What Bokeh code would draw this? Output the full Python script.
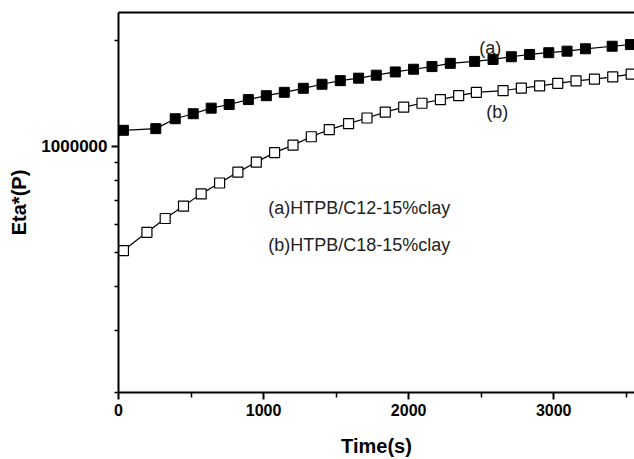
from bokeh.plotting import figure
from bokeh.models import (FixedTicker, PrintfTickFormatter, LinearAxis, Label,
                          Range1d, ColumnDataSource)
from bokeh.embed import file_html
from bokeh.resources import INLINE

# ---- data ----
time_a = [34, 257, 391, 515, 639, 763, 895, 1019, 1143, 1274, 1403, 1529, 1655, 1777,
          1908, 2034, 2161, 2287, 2455, 2582, 2708, 2834, 2966, 3092, 3219, 3403, 3529]
eta_a = [1.111e6, 1.123e6, 1.198e6, 1.238e6, 1.284e6, 1.315e6, 1.358e6, 1.393e6, 1.424e6,
         1.462e6, 1.501e6, 1.537e6, 1.562e6, 1.593e6, 1.627e6, 1.656e6, 1.685e6, 1.721e6,
         1.743e6, 1.766e6, 1.797e6, 1.824e6, 1.845e6, 1.864e6, 1.893e6, 1.925e6, 1.946e6]

time_b = [34, 196, 322, 448, 570, 697, 823, 950, 1076, 1203, 1329, 1453, 1586, 1713,
          1839, 1966, 2092, 2219, 2345, 2467, 2651, 2777, 2903, 3028, 3154, 3281, 3407, 3534]
eta_b = [5.06e5, 5.70e5, 6.24e5, 6.77e5, 7.33e5, 7.87e5, 8.45e5, 9.02e5, 9.60e5, 1.008e6,
         1.065e6, 1.116e6, 1.160e6, 1.204e6, 1.251e6, 1.292e6, 1.326e6, 1.358e6, 1.393e6,
         1.424e6, 1.439e6, 1.464e6, 1.486e6, 1.510e6, 1.535e6, 1.552e6, 1.575e6, 1.603e6]

x_major_ticks = [0, 1000, 2000, 3000]
x_minor_ticks = [500, 1500, 2500, 3500]
y_major_ticks = [1e6]
y_minor_ticks = [2e5, 3e5, 4e5, 5e5, 6e5, 7e5, 8e5, 9e5, 2e6]

x_title = "Time(s)"
y_title = "Eta*(P)"
legend_a = "(a)HTPB/C12-15%clay"
legend_b = "(b)HTPB/C18-15%clay"

FONT = "Liberation Sans"

p = figure(width=634, height=459, output_backend="svg", toolbar_location=None,
           y_axis_type="log",
           x_range=Range1d(0, 3557), y_range=Range1d(2e5, 2.4e6),
           min_border_left=118, min_border_right=0, min_border_top=12, min_border_bottom=62)
p.outline_line_color = None
p.grid.visible = False
p.background_fill_color = "white"
p.border_fill_color = "white"

# x axis
xa = p.xaxis[0]
xa.ticker = FixedTicker(ticks=x_major_ticks, minor_ticks=x_minor_ticks)
xa.axis_line_width = 2
xa.axis_line_color = "black"
xa.major_tick_line_width = 2
xa.minor_tick_line_width = 1.5
xa.major_tick_out = 7
xa.major_tick_in = 0
xa.minor_tick_out = 5
xa.minor_tick_in = 0
xa.major_label_text_font = FONT
xa.major_label_text_font_style = "bold"
xa.major_label_text_font_size = "16px"
xa.major_label_text_color = "black"
xa.major_label_standoff = 4
xa.axis_label = x_title
xa.axis_label_text_font = FONT
xa.axis_label_text_font_style = "bold"
xa.axis_label_text_font_size = "20px"
xa.axis_label_text_color = "black"
xa.axis_label_standoff = 16

# y axis
ya = p.yaxis[0]
ya.ticker = FixedTicker(ticks=y_major_ticks, minor_ticks=y_minor_ticks)
ya.formatter = PrintfTickFormatter(format="%d")
ya.axis_line_width = 2
ya.axis_line_color = "black"
ya.major_tick_line_width = 2
ya.minor_tick_line_width = 1.5
ya.major_tick_out = 7
ya.major_tick_in = 0
ya.minor_tick_out = 4
ya.minor_tick_in = 0
ya.major_label_text_font = FONT
ya.major_label_text_font_style = "bold"
ya.major_label_text_font_size = "17px"
ya.major_label_text_color = "black"
ya.major_label_standoff = 4
ya.axis_label = y_title
ya.axis_label_text_font = FONT
ya.axis_label_text_font_style = "bold"
ya.axis_label_text_font_size = "20px"
ya.axis_label_text_color = "black"
ya.axis_label_standoff = 8

# top border line as an axis without ticks
top = LinearAxis(ticker=FixedTicker(ticks=[]), axis_line_width=2.2, axis_line_color="black",
                 major_tick_out=0, major_tick_in=0, minor_tick_out=0, minor_tick_in=0,
                 major_label_text_font_size="0px", major_label_standoff=0)
p.add_layout(top, "above")

# series
src_a = ColumnDataSource(dict(t=time_a, v=eta_a))
src_b = ColumnDataSource(dict(t=time_b, v=eta_b))
p.line("t", "v", source=src_a, line_color="black", line_width=1.2)
p.scatter("t", "v", source=src_a, marker="square", size=10, fill_color="black",
          line_color="black", line_width=1)
p.line("t", "v", source=src_b, line_color="black", line_width=1.2)
p.scatter("t", "v", source=src_b, marker="square", size=10, fill_color="white",
          line_color="black", line_width=1.2)

def lab(x, y, text, size="18px", **kw):
    p.add_layout(Label(x=x, y=y, text=text, text_font=FONT, text_font_size=size,
                       text_color="#222222", **kw))

lab(1032, 6.70e5, legend_a, text_baseline="middle", text_align="left")
lab(1032, 5.24e5, legend_b, text_baseline="middle", text_align="left")
lab(2563, 1.90e6, "(a)", text_baseline="middle", text_align="center")
lab(2611, 1.254e6, "(b)", text_baseline="middle", text_align="center")

open("out.html", "w").write(file_html(p, INLINE))
